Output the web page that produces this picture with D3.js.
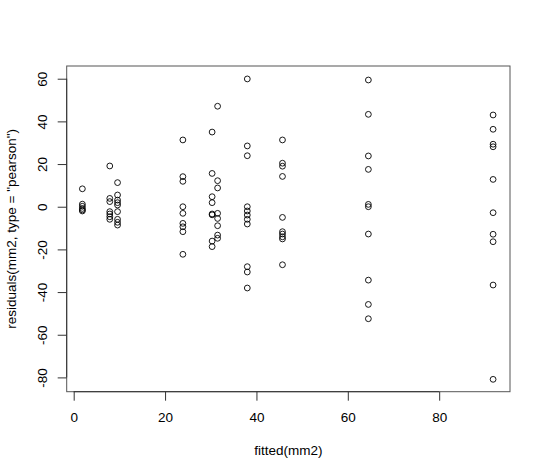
<!DOCTYPE html>
<html><head><meta charset="utf-8">
<script src="https://cdn.jsdelivr.net/npm/d3@7"></script>
<style>body{margin:0;background:#fff;} svg{display:block;}</style>
</head><body>
<svg id="c" width="540" height="467"></svg>
<script>
// fitted value for each group of observations
const fittedGroups = [1.9, 7.9, 9.6, 23.9, 30.3, 31.5, 38.0, 45.7, 64.5, 91.8];
// pearson residuals per group
const residualGroups = [
  [8.4, 1.2, 0.2, -0.8, -1.5, -2.0],
  [19.1, 3.9, 2.4, -2.3, -3.4, -4.7, -5.9],
  [11.3, 5.5, 3.1, 1.9, 0.8, -2.3, -5.9, -7.3, -8.6],
  [31.3, 14.1, 11.9, 0.0, -3.1, -7.8, -9.4, -11.7, -22.3],
  [35.0, 15.6, 4.7, 1.9, -3.4, -3.8, -16.1, -18.7],
  [47.1, 12.2, 8.8, -3.1, -5.5, -8.9, -13.3, -14.8],
  [59.9, 28.5, 23.9, 0.0, -2.0, -3.9, -5.9, -8.1, -28.1, -30.6, -38.1],
  [31.3, 20.4, 19.0, 14.2, -5.0, -11.7, -12.8, -14.1, -15.1, -27.2],
  [59.4, 43.3, 23.8, 17.5, 1.1, 0.0, -12.8, -34.4, -45.8, -52.5],
  [43.0, 36.3, 29.3, 28.1, 12.8, -2.8, -12.9, -16.4, -36.7, -80.9]
];
const xTicks = [0, 20, 40, 60, 80];
const yTicks = [60, 40, 20, 0, -20, -40, -60, -80];
const xLabel = "fitted(mm2)";
const yLabel = 'residuals(mm2, type = "pearson")';

const points = [];
fittedGroups.forEach((f, i) => residualGroups[i].forEach(r => points.push({x: f, y: r})));

const L = 66.7, R = 510, T = 66, B = 391.7;
const x = d3.scaleLinear().domain([-1.53, 95.5]).range([L, R]);
const y = d3.scaleLinear().domain([-86.7, 65.96]).range([B, T]);

const svg = d3.select("#c");
const font = "'Liberation Sans', Arial, sans-serif";
const fs = 13.5;

// box
svg.append("rect").attr("x", L).attr("y", T).attr("width", R - L).attr("height", B - T)
  .attr("fill", "none").attr("stroke", "#555").attr("stroke-width", 1);

// x axis
const xa = svg.append("g").attr("transform", `translate(0,${B})`)
  .call(d3.axisBottom(x).tickValues(xTicks).tickSize(9).tickFormat(d3.format("d")).tickSizeOuter(0));
xa.select(".domain").attr("d", `M${x(xTicks[0])},0H${x(xTicks[xTicks.length-1])}`).attr("stroke", "#333");
xa.selectAll(".tick line").attr("stroke", "#333");
xa.selectAll(".tick text").attr("font-family", font).attr("font-size", fs).attr("fill", "#000")
  .attr("y", 0).attr("dy", null).attr("dominant-baseline", "central")
  .attr("transform", "translate(0,25.6)");

// y axis
const ya = svg.append("g").attr("transform", `translate(${L},0)`)
  .call(d3.axisLeft(y).tickValues(yTicks).tickSize(9).tickFormat(d => d < 0 ? "-" + Math.abs(d) : d).tickSizeOuter(0));
ya.select(".domain").attr("d", `M0,${y(yTicks[0])}V${y(yTicks[yTicks.length-1])}`).attr("stroke", "#333");
ya.selectAll(".tick line").attr("stroke", "#333");
ya.selectAll(".tick text").attr("font-family", font).attr("font-size", fs).attr("fill", "#000")
  .attr("x", 0).attr("dy", null).attr("text-anchor", "middle").attr("dominant-baseline", "central")
  .attr("transform", "translate(-24,0) rotate(-90)");

// points
svg.append("g").selectAll("circle").data(points).join("circle")
  .attr("cx", d => x(d.x)).attr("cy", d => y(d.y)).attr("r", 2.9)
  .attr("fill", "none").attr("stroke", "#000").attr("stroke-width", 0.9);

// labels
svg.append("text").attr("x", (L + R) / 2).attr("y", 450.7).attr("text-anchor", "middle")
  .attr("dominant-baseline", "central").attr("font-family", font).attr("font-size", fs).text(xLabel);
svg.append("text").attr("transform", `translate(11,${(T + B) / 2}) rotate(-90)`).attr("text-anchor", "middle")
  .attr("dominant-baseline", "central").attr("font-family", font).attr("font-size", fs).text(yLabel);
</script>
</body></html>
